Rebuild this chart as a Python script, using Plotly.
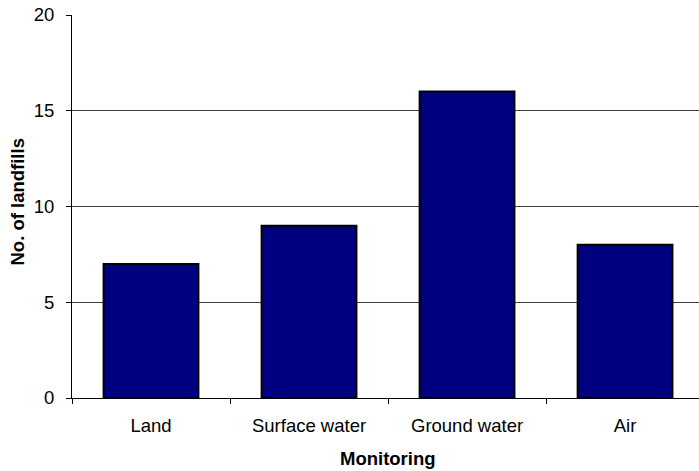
import plotly.graph_objects as go

categories = ["Land", "Surface water", "Ground water", "Air"]
values = [7, 9, 16, 8]
y_ticks = [0, 5, 10, 15, 20]

FONT = "Liberation Sans, Arial, sans-serif"

fig = go.Figure(go.Bar(
    x=categories, y=values,
    marker=dict(color="#000080", line=dict(color="black", width=2)),
    width=0.6,
))

fig.update_layout(
    width=699, height=471,
    margin=dict(l=72, r=0, t=15, b=73),
    paper_bgcolor="white", plot_bgcolor="white",
    font=dict(family=FONT, size=18.5, color="black"),
    showlegend=False,
    bargap=0.4,
    annotations=[
        dict(text="<b>Monitoring</b>", xref="paper", yref="paper",
             x=0.504, y=0, yshift=-60, xanchor="center", yanchor="middle",
             showarrow=False, font=dict(size=18.5)),
        dict(text="<b>No. of landfills</b>", xref="paper", yref="paper",
             x=0, y=0.5, xshift=-55, yshift=4, xanchor="center", yanchor="middle",
             textangle=-90, showarrow=False, font=dict(size=18.5)),
    ],
)
fig.update_xaxes(
    range=[-0.5, 3.468], automargin=False,
    showline=True, linecolor="black", linewidth=1,
    ticks="outside", ticklen=5, tickcolor="black", tickson="boundaries",
    showgrid=False,
    ticklabelstandoff=11,
)
fig.update_yaxes(
    range=[0, 20], tickvals=y_ticks, automargin=False,
    showline=True, linecolor="black", linewidth=1,
    ticks="outside", ticklen=5, tickcolor="black",
    showgrid=True, gridcolor="#404040", gridwidth=1,
    zeroline=False,
    ticklabelstandoff=8,
)

fig.write_html(
    "out.html",
    config={"displayModeBar": False},
    post_script="document.body.style.margin='0';document.body.style.overflow='hidden';",
)
